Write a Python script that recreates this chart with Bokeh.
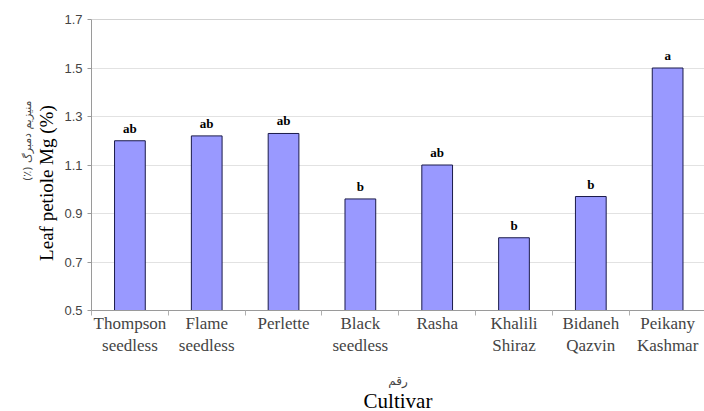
from bokeh.plotting import figure
from bokeh.models import ColumnDataSource, FixedTicker, Range1d, Title, Span
from bokeh.core.properties import value
from bokeh.embed import file_html
from bokeh.resources import INLINE

cultivars = ["Thompson\nseedless", "Flame\nseedless", "Perlette", "Black\nseedless",
             "Rasha", "Khalili\nShiraz", "Bidaneh\nQazvin", "Peikany\nKashmar"]
mg_values = [1.20, 1.22, 1.23, 0.96, 1.10, 0.80, 0.97, 1.50]
letters = ["ab", "ab", "ab", "b", "ab", "b", "b", "a"]
y_ticks = [0.5, 0.7, 0.9, 1.1, 1.3, 1.5, 1.7]

SERIF = "Liberation Serif"
SANS = "Liberation Sans"
ARABIC = "DejaVu Sans"

positions = list(range(1, len(cultivars) + 1))
boundaries = [i + 0.5 for i in range(0, len(cultivars) + 1)]

src = ColumnDataSource(dict(x=positions, top=mg_values, lab=letters))

p = figure(width=704, height=411, output_backend="svg", toolbar_location=None,
           x_range=Range1d(0.5, 8.48), y_range=Range1d(0.5, 1.7),
           min_border_left=91, min_border_right=0, min_border_top=19, min_border_bottom=101)
p.outline_line_color = None

p.ygrid.grid_line_color = "#e2e2e2"
p.xgrid.grid_line_color = None
p.add_layout(Span(location=1.7, dimension="width", line_color="#a8a8a8", line_width=1))

p.vbar(x="x", top="top", bottom=0.5, width=0.40, source=src,
       fill_color="#9999FF", line_color="#1a1a4a", line_width=1)
p.text(x="x", y="top", text="lab", source=src, y_offset=-5,
       text_align="center", text_baseline="bottom",
       text_font=value(SERIF), text_font_style="bold",
       text_font_size="13px", text_color="black")

# y axis
p.yaxis.ticker = FixedTicker(ticks=y_ticks)
p.yaxis.major_label_overrides = {t: f"{t:.1f}" for t in y_ticks}
p.yaxis.major_label_text_font = SANS
p.yaxis.major_label_text_font_size = "13px"
p.yaxis.axis_line_color = "#9a9a9a"
p.yaxis.major_tick_line_color = "#9a9a9a"
p.yaxis.major_tick_out = 4
p.yaxis.major_tick_in = 0
p.yaxis.minor_tick_line_color = None
p.yaxis.major_label_standoff = 5

# x axis (the Persian title sits as the axis label under the cultivar names)
p.xaxis.ticker = FixedTicker(ticks=positions, minor_ticks=boundaries)
p.xaxis.major_label_overrides = {i: c for i, c in zip(positions, cultivars)}
p.xaxis.major_label_text_font = SERIF
p.xaxis.major_label_text_font_size = "17px"
p.xaxis.major_label_text_baseline = "middle"
p.xaxis.major_label_standoff = -2
p.xaxis.major_tick_line_color = None
p.xaxis.major_tick_out = 0
p.xaxis.major_tick_in = 0
p.xaxis.minor_tick_line_color = "#b0b0b0"
p.xaxis.minor_tick_out = 5
p.xaxis.minor_tick_in = 0
p.xaxis.axis_line_color = "#9a9a9a"
p.xaxis.axis_label = "رقم"
p.xaxis.axis_label_text_font = ARABIC
p.xaxis.axis_label_text_font_size = "12px"
p.xaxis.axis_label_text_font_style = "normal"
p.xaxis.axis_label_standoff = 16

# y titles (stack outward from the axis: English, then Persian)
p.add_layout(Title(text="Leaf petiole  Mg (%)", align="right", offset=81, standoff=10,
                   text_font=SERIF, text_font_size="19px", text_font_style="normal",
                   text_color="black"), "left")
p.add_layout(Title(text="\u202bمنیزیم دمبرگ (٪)\u202c", align="right", offset=81, standoff=-10,
                   text_font=ARABIC, text_font_size="11px", text_font_style="normal"), "left")
p.add_layout(Title(text="Cultivar", align="center", standoff=-10,
                   text_font=SERIF, text_font_size="21px", text_font_style="normal",
                   text_color="black"), "below")

open("out.html", "w").write(file_html(p, INLINE))
